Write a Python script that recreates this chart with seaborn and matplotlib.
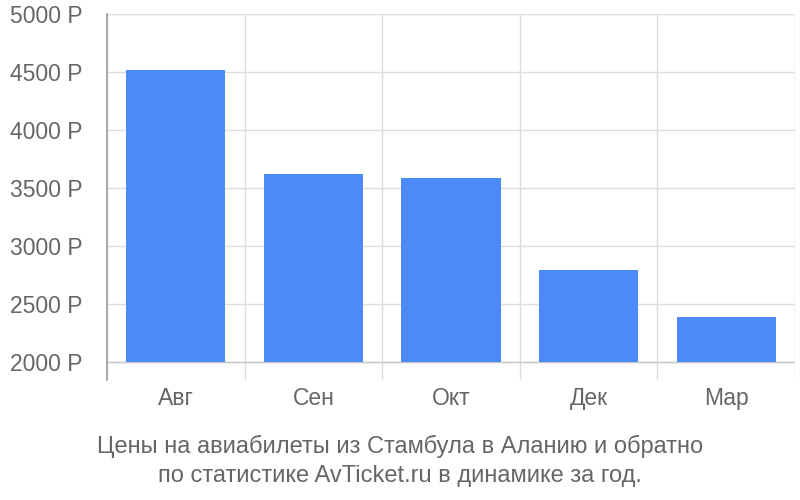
import matplotlib
matplotlib.use("Agg")
import matplotlib.pyplot as plt
import seaborn as sns
import pandas as pd

# values
months = ["Авг", "Сен", "Окт", "Дек", "Мар"]
prices = [4520, 3620, 3585, 2790, 2392]
y_ticks = [2000, 2500, 3000, 3500, 4000, 4500, 5000]
y_labels = [f"{v} Р" for v in y_ticks]
caption = ("Цены на авиабилеты из Стамбула в Аланию и обратно\n"
           "по статистике AvTicket.ru в динамике за год.")

BAR_COLOR = "#4d8af9"
GRID_COLOR = "#dddddd"
TEXT_COLOR = "#666666"


def main():
    df = pd.DataFrame({"month": months, "price": prices})

    sns.set_style("white")
    plt.rcParams["font.family"] = ["Liberation Sans", "DejaVu Sans"]

    fig = plt.figure(figsize=(8, 5), dpi=100)
    ax = fig.add_axes([0.13375, 0.24, 0.86, 0.732])

    sns.barplot(data=df, x="month", y="price", color=BAR_COLOR,
                saturation=1, width=0.72, ax=ax, zorder=3)

    # bars start at the 2000 baseline, not at zero
    base = 2000
    for p in ax.patches:
        p.set_y(base)
        p.set_height(p.get_height() - base)
        p.set_edgecolor("none")

    ax.set_xlim(-0.5, 4.5)
    ax.set_ylim(1845, 5000)
    ax.set_yticks(y_ticks)
    ax.set_yticklabels(y_labels)
    ax.set_xlabel("")
    ax.set_ylabel("")

    ax.set_xticks([x - 0.5 for x in range(len(months) + 1)], minor=True)
    ax.grid(True, which="minor", axis="x", color=GRID_COLOR, lw=1, zorder=0)
    ax.grid(True, which="major", axis="y", color=GRID_COLOR, lw=1, zorder=0)
    ax.grid(False, which="major", axis="x")
    ax.axhline(base, color="#c8c8c8", lw=1, zorder=2)

    ax.tick_params(axis="y", which="major", length=14.5, width=1, color=GRID_COLOR,
                   pad=3, labelsize=16.5, labelcolor=TEXT_COLOR)
    ax.tick_params(axis="x", which="major", length=0, pad=5,
                   labelsize=16.5, labelcolor=TEXT_COLOR)
    ax.tick_params(axis="x", which="minor", length=0)

    for side in ["top", "right", "bottom"]:
        ax.spines[side].set_visible(False)
    ax.spines["left"].set_color("#9e9e9e")
    ax.spines["left"].set_linewidth(1.2)

    fig.text(0.5, 0.078, caption, ha="center", va="center", fontsize=17,
             color=TEXT_COLOR, linespacing=1.4)

    fig.savefig("out.png", dpi=100)


if __name__ == "__main__":
    main()
